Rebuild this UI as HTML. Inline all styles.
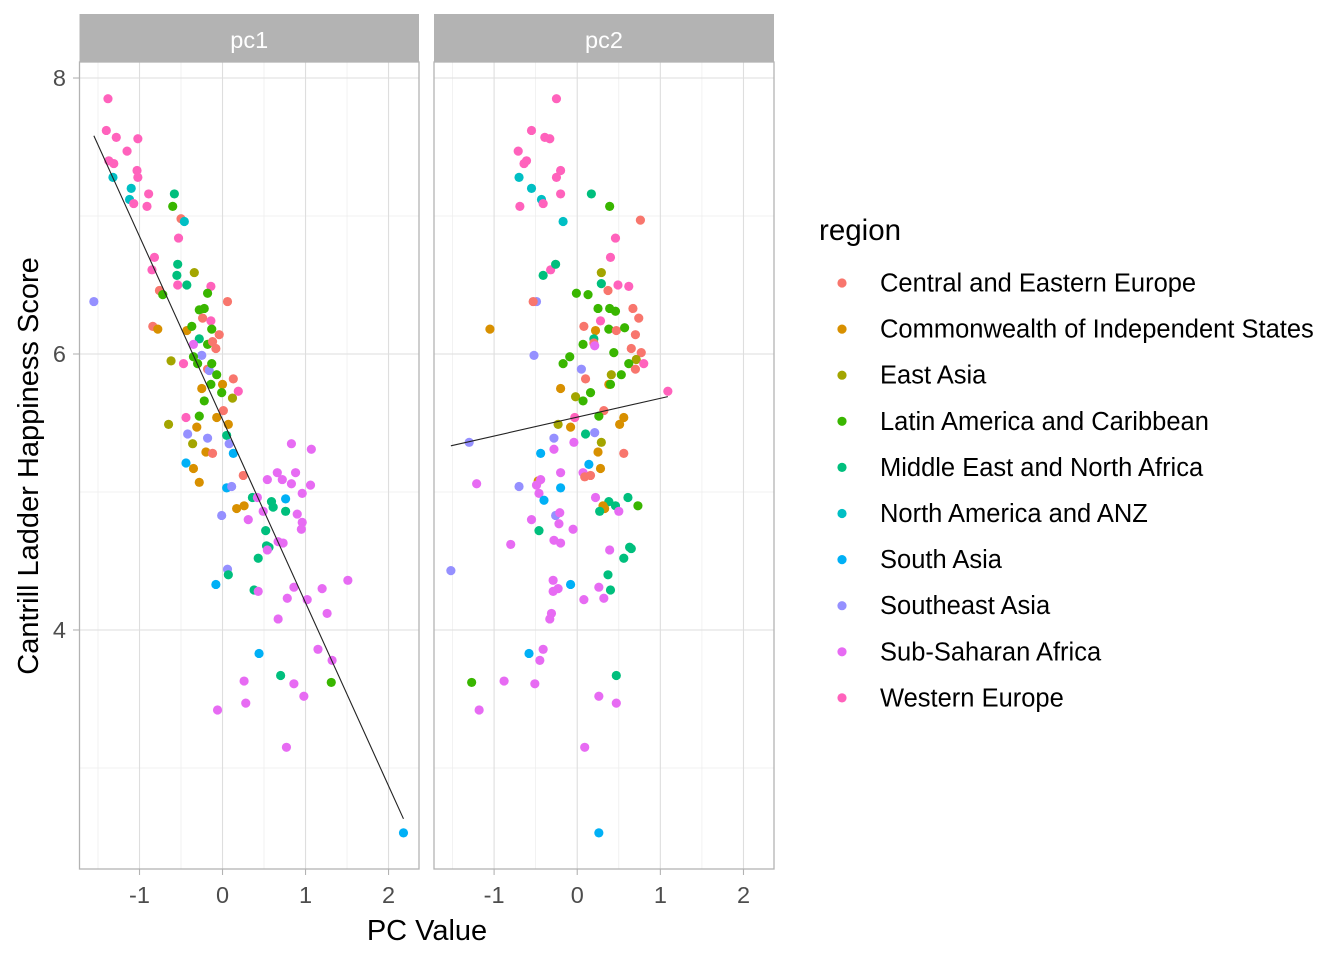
<!DOCTYPE html>
<html><head><meta charset="utf-8"><style>
body{margin:0;background:#fff;}
svg{display:block;font-family:"Liberation Sans",Arial,sans-serif;}
</style></head><body>
<svg id="chart" width="1344" height="960" viewBox="0 0 1344 960"></svg>
<script>
const regions=["Central and Eastern Europe","Commonwealth of Independent States","East Asia","Latin America and Caribbean","Middle East and North Africa","North America and ANZ","South Asia","Southeast Asia","Sub-Saharan Africa","Western Europe"];
const colors=["#F8766D","#D89000","#A3A500","#39B600","#00BF7D","#00BFC4","#00B0F6","#9590FF","#E76BF3","#FF62BC"];
const panelNames=["pc1","pc2"];
const xTicks=[-1,0,1,2];
const yTicks=[4,6,8];
// [pc value, happiness score, region index]
const pc1Points=[[-1.38,7.85,9],[-1.40,7.62,9],[-1.28,7.57,9],[-1.02,7.56,9],[-1.15,7.47,9],[-1.37,7.40,9],[-1.31,7.38,9],[-1.03,7.33,9],[-1.02,7.28,9],[-1.32,7.28,5],[-1.10,7.20,5],[-1.12,7.12,5],[-1.07,7.09,9],[-0.89,7.16,9],[-0.91,7.07,9],[-0.58,7.16,4],[-0.60,7.07,3],[-0.50,6.98,0],[-0.46,6.96,5],[-0.53,6.84,9],[-0.82,6.70,9],[-0.85,6.61,9],[-0.54,6.65,4],[-0.55,6.57,4],[-0.34,6.59,2],[-0.54,6.50,9],[-0.43,6.50,4],[-0.14,6.49,9],[-0.18,6.44,3],[-1.55,6.38,7],[0.06,6.38,0],[-0.76,6.46,0],[-0.72,6.43,3],[-0.28,6.32,3],[-0.22,6.33,3],[-0.24,6.26,0],[-0.14,6.24,9],[-0.13,6.18,3],[-0.04,6.14,0],[-0.84,6.20,0],[-0.78,6.18,1],[-0.43,6.17,1],[-0.37,6.20,3],[-0.28,6.11,4],[-0.18,6.07,3],[-0.12,6.09,0],[-0.08,6.04,0],[-0.35,6.07,8],[-0.25,5.99,7],[-0.35,5.98,3],[-0.30,5.93,3],[-0.62,5.95,2],[-0.47,5.93,9],[-0.18,5.89,0],[-0.16,5.88,7],[-0.13,5.93,3],[-0.07,5.85,3],[0.13,5.82,0],[-0.14,5.78,3],[0.00,5.78,1],[-0.01,5.72,3],[0.19,5.73,9],[0.12,5.68,2],[-0.25,5.75,1],[-0.22,5.66,3],[0.01,5.59,0],[-0.44,5.54,9],[-0.28,5.55,3],[-0.07,5.54,1],[-0.65,5.49,2],[-0.31,5.47,1],[0.07,5.49,1],[-0.42,5.42,7],[-0.18,5.39,7],[-0.36,5.35,2],[0.05,5.41,4],[0.08,5.35,7],[-0.20,5.29,1],[-0.12,5.28,0],[0.13,5.28,6],[-0.44,5.21,6],[-0.35,5.17,1],[-0.28,5.07,1],[0.83,5.35,8],[1.07,5.31,8],[0.25,5.12,0],[0.54,5.09,8],[0.66,5.14,8],[0.72,5.09,8],[0.88,5.14,8],[0.83,5.06,8],[1.06,5.05,8],[0.96,4.99,8],[0.05,5.03,6],[0.11,5.04,7],[0.36,4.96,4],[0.42,4.96,8],[0.59,4.93,4],[0.61,4.89,4],[0.76,4.95,6],[0.17,4.88,1],[0.26,4.90,1],[-0.01,4.83,7],[0.49,4.86,8],[0.76,4.86,4],[0.90,4.84,8],[0.31,4.80,8],[0.96,4.78,8],[0.95,4.73,8],[0.52,4.72,4],[0.67,4.64,8],[0.73,4.63,8],[0.53,4.61,4],[0.56,4.60,4],[0.54,4.58,8],[0.43,4.52,4],[0.06,4.44,7],[0.07,4.40,4],[-0.08,4.33,6],[0.38,4.29,4],[0.43,4.28,8],[0.86,4.31,8],[1.20,4.30,8],[1.51,4.36,8],[0.78,4.23,8],[1.02,4.22,8],[1.26,4.12,8],[0.67,4.08,8],[0.44,3.83,6],[1.15,3.86,8],[1.32,3.78,8],[0.70,3.67,4],[0.26,3.63,8],[0.86,3.61,8],[1.31,3.62,3],[0.98,3.52,8],[0.28,3.47,8],[-0.06,3.42,8],[0.77,3.15,8],[2.18,2.53,6]];
const pc2Points=[[-0.25,7.85,9],[-0.55,7.62,9],[-0.39,7.57,9],[-0.33,7.56,9],[-0.71,7.47,9],[-0.61,7.40,9],[-0.64,7.38,9],[-0.20,7.33,9],[-0.25,7.28,9],[-0.70,7.28,5],[-0.55,7.20,5],[-0.43,7.12,5],[-0.41,7.09,9],[-0.20,7.16,9],[-0.69,7.07,9],[0.17,7.16,4],[0.39,7.07,3],[0.76,6.97,0],[-0.17,6.96,5],[0.46,6.84,9],[0.40,6.70,9],[-0.32,6.61,9],[-0.26,6.65,4],[-0.41,6.57,4],[0.29,6.59,2],[0.49,6.50,9],[0.29,6.51,4],[0.62,6.49,9],[0.37,6.46,0],[-0.01,6.44,3],[0.13,6.43,3],[-0.49,6.38,7],[-0.53,6.38,0],[0.25,6.33,3],[0.39,6.33,3],[0.46,6.31,3],[0.67,6.33,0],[0.74,6.26,0],[0.28,6.24,9],[-1.05,6.18,1],[0.08,6.20,0],[0.22,6.17,1],[0.38,6.18,3],[0.47,6.17,0],[0.57,6.19,3],[0.70,6.14,0],[0.20,6.11,4],[0.20,6.08,0],[0.07,6.07,3],[0.21,6.06,8],[0.44,6.01,3],[0.65,6.04,0],[0.77,6.01,0],[-0.52,5.99,7],[-0.09,5.98,3],[-0.17,5.93,3],[0.71,5.96,2],[0.62,5.93,3],[0.80,5.93,9],[0.70,5.89,0],[0.05,5.89,7],[0.10,5.82,0],[0.41,5.85,2],[0.53,5.85,3],[0.38,5.78,1],[0.40,5.78,3],[-0.20,5.75,1],[0.16,5.72,3],[-0.02,5.69,2],[0.07,5.66,3],[1.09,5.73,9],[0.32,5.59,0],[-0.03,5.54,9],[0.26,5.55,3],[0.56,5.54,1],[-0.23,5.49,2],[-0.08,5.47,1],[0.51,5.49,1],[0.10,5.42,4],[0.21,5.43,7],[-0.28,5.39,7],[-1.30,5.36,7],[0.29,5.36,2],[-0.28,5.31,8],[-0.04,5.36,8],[0.25,5.29,1],[0.56,5.28,0],[-0.44,5.28,6],[0.14,5.20,6],[0.28,5.17,1],[-0.20,5.14,8],[0.07,5.14,8],[0.09,5.11,0],[0.16,5.12,0],[-1.21,5.06,8],[-0.70,5.04,7],[-0.47,5.08,1],[-0.44,5.09,8],[-0.49,5.05,8],[-0.20,5.03,6],[-0.46,4.99,8],[-0.40,4.94,6],[0.22,4.96,8],[0.38,4.93,4],[0.61,4.96,4],[0.73,4.90,3],[0.31,4.90,1],[0.33,4.88,1],[0.46,4.90,4],[0.27,4.86,4],[0.50,4.86,8],[-0.26,4.83,7],[-0.21,4.85,8],[-0.55,4.80,8],[-0.22,4.77,8],[-0.05,4.73,8],[-0.46,4.72,4],[-0.28,4.65,8],[-0.20,4.63,8],[-0.80,4.62,8],[0.39,4.58,8],[0.63,4.60,4],[0.65,4.59,4],[0.56,4.52,4],[-1.52,4.43,7],[0.37,4.40,4],[-0.29,4.36,8],[-0.08,4.33,6],[0.26,4.31,8],[0.40,4.29,4],[-0.29,4.28,8],[-0.23,4.30,8],[0.32,4.23,8],[0.08,4.22,8],[-0.31,4.12,8],[-0.33,4.08,8],[-0.41,3.86,8],[-0.58,3.83,6],[-0.45,3.78,8],[0.47,3.67,4],[-1.27,3.62,3],[-0.88,3.63,8],[-0.51,3.61,8],[0.26,3.52,8],[0.47,3.47,8],[-1.18,3.42,8],[0.09,3.15,8],[0.26,2.53,6]];

const NS="http://www.w3.org/2000/svg";
const svg=document.getElementById('chart');
function mk(tag,attrs,parent,text){const e=document.createElementNS(NS,tag);for(const k in attrs)e.setAttribute(k,attrs[k]);if(text!==undefined)e.textContent=text;(parent||svg).appendChild(e);return e;}
const xDom=[-1.723,2.367], yDom=[2.268,8.116];
const panels=[{left:79.5,right:419,data:pc1Points},{left:434,right:774,data:pc2Points}];
const top_=62, bot=869;
function ys(v){return bot-(v-yDom[0])/(yDom[1]-yDom[0])*(bot-top_);}

panels.forEach((p,pi)=>{
  const xs=v=>p.left+(v-xDom[0])/(xDom[1]-xDom[0])*(p.right-p.left);
  const g=mk('g',{});
  
  
  [-1.5,-0.5,0.5,1.5].forEach(v=>{const l=mk('line',{x1:xs(v),x2:xs(v),y1:top_,y2:bot,stroke:'#ececec','stroke-width':0.7},g);});
  [3,5,7].forEach(v=>{const l=mk('line',{x1:p.left,x2:p.right,y1:ys(v),y2:ys(v),stroke:'#ececec','stroke-width':0.7},g);});
  xTicks.forEach(v=>{const l=mk('line',{x1:xs(v),x2:xs(v),y1:top_,y2:bot,stroke:'#dedede','stroke-width':1.1},g);
    const t=mk('line',{x1:xs(v),x2:xs(v),y1:bot,y2:bot+6,stroke:'#b3b3b3','stroke-width':1.1},g);
    const tl=mk('text',{x:xs(v),y:903,'text-anchor':'middle','font-size':23.5,fill:'#4d4d4d'},g,String(v));});
  yTicks.forEach(v=>{const l=mk('line',{x1:p.left,x2:p.right,y1:ys(v),y2:ys(v),stroke:'#dedede','stroke-width':1.1},g);});
  const s=mk('rect',{x:p.left,y:14,width:p.right-p.left,height:48,fill:'#b3b3b3'},g);
  const st=mk('text',{x:(p.left+p.right)/2,y:48,'text-anchor':'middle','font-size':23.5,fill:'#ffffff'},g,panelNames[pi]);
  p.data.forEach(d=>{const c=mk('circle',{cx:xs(d[0]),cy:ys(d[1]),r:4.6,fill:colors[d[2]]},g);});
  const n=p.data.length;let mx=0,my=0;p.data.forEach(d=>{mx+=d[0];my+=d[1];});mx/=n;my/=n;
  let sxy=0,sxx=0;p.data.forEach(d=>{sxy+=(d[0]-mx)*(d[1]-my);sxx+=(d[0]-mx)*(d[0]-mx);});
  const b=sxy/sxx,a=my-b*mx;
  const xmin=Math.min(...p.data.map(d=>d[0])),xmax=Math.max(...p.data.map(d=>d[0]));
  const ln=mk('line',{x1:xs(xmin),y1:ys(a+b*xmin),x2:xs(xmax),y2:ys(a+b*xmax),stroke:'#222','stroke-width':1.1},g);
  const br=mk('rect',{x:p.left,y:top_,width:p.right-p.left,height:bot-top_,fill:'none',stroke:'#b3b3b3','stroke-width':1.3},g);
});
yTicks.forEach(v=>{const t=mk('line',{x1:73,x2:79.5,y1:ys(v),y2:ys(v),stroke:'#b3b3b3','stroke-width':1.1});
  const tl=mk('text',{x:66,y:ys(v)+8,'text-anchor':'end','font-size':23.5,fill:'#4d4d4d'},null,String(v));});
const xt=mk('text',{x:427,y:940,'text-anchor':'middle','font-size':29,fill:'#000'},null,'PC Value');
const yt=mk('text',{x:0,y:0,'text-anchor':'middle','font-size':29,fill:'#000',transform:'translate(38,466) rotate(-90)'},null,'Cantrill Ladder Happiness Score');
const lg=mk('g',{});
const lt=mk('text',{x:819,y:240,'font-size':29.5,fill:'#000'},lg,'region');
regions.forEach((r,i)=>{const y=283+i*46.1;
  const e=mk('g',{},lg);
  mk('circle',{cx:842,cy:y,r:4.6,fill:colors[i]},e);
  mk('text',{x:880,y:y+8.5,'font-size':25.5,fill:'#000'},e,r);});
</script>
</body></html>
